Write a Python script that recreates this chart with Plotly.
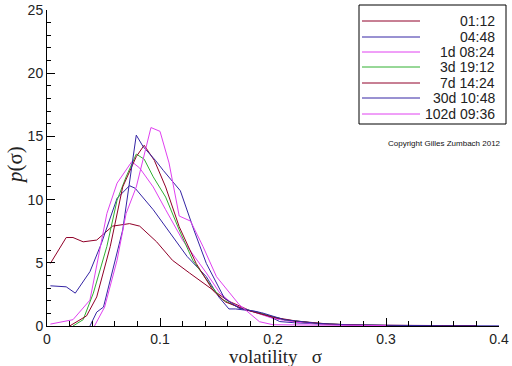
import plotly.graph_objects as go

# ---------------- data ----------------
labels = ["01:12", "04:48", "1d 08:24", "3d 19:12", "7d 14:24", "30d 10:48", "102d 09:36"]
colors = ["#900028", "#3424a4", "#e040f0", "#30b030", "#900028", "#3424a4", "#e040f0"]

x_0112 = [0.003, 0.017, 0.023, 0.032, 0.044, 0.058, 0.073, 0.082, 0.097, 0.111, 0.126, 0.147, 0.16, 0.18, 0.2, 0.22, 0.25, 0.28, 0.3, 0.33, 0.36, 0.38]
y_0112 = [4.95, 7.0, 7.0, 6.66, 6.8, 7.9, 8.1, 7.9, 6.66, 5.2, 4.2, 2.84, 2.0, 1.2, 0.65, 0.35, 0.15, 0.07, 0.05, 0.03, 0.02, 0.02]

x_0448 = [0.003, 0.017, 0.025, 0.038, 0.048, 0.062, 0.073, 0.078, 0.094, 0.109, 0.124, 0.141, 0.152, 0.161, 0.167, 0.185, 0.197, 0.206, 0.22, 0.25, 0.28, 0.3]
y_0448 = [3.18, 3.1, 2.6, 4.3, 6.5, 10.1, 11.1, 10.9, 9.2, 7.3, 5.5, 3.9, 2.3, 1.35, 1.35, 1.15, 0.75, 0.35, 0.25, 0.12, 0.06, 0.04]

x_1d = [0.003, 0.023, 0.038, 0.053, 0.062, 0.075, 0.082, 0.094, 0.105, 0.12, 0.141, 0.153, 0.165, 0.18, 0.2, 0.22, 0.25, 0.28]
y_1d = [0.15, 0.5, 2.05, 8.9, 11.3, 13.0, 12.5, 11.0, 9.2, 6.8, 4.2, 2.6, 1.7, 1.2, 0.6, 0.3, 0.12, 0.05]

x_3d = [0.023, 0.032, 0.041, 0.053, 0.062, 0.07, 0.079, 0.086, 0.094, 0.105, 0.117, 0.129, 0.145, 0.155, 0.17, 0.19, 0.21, 0.24, 0.27, 0.3, 0.33]
y_3d = [0.0, 0.5, 2.6, 6.3, 9.95, 11.8, 13.6, 13.2, 11.8, 10.2, 7.6, 5.2, 3.2, 2.1, 1.45, 1.0, 0.5, 0.2, 0.08, 0.04, 0.02]

x_7d = [0.02, 0.035, 0.044, 0.056, 0.067, 0.079, 0.086, 0.095, 0.105, 0.117, 0.132, 0.147, 0.158, 0.175, 0.2, 0.22, 0.25, 0.28, 0.31, 0.34, 0.38]
y_7d = [0.0, 0.8, 2.3, 6.3, 11.0, 13.4, 14.3, 13.1, 11.0, 7.85, 4.95, 2.8, 1.9, 1.3, 0.7, 0.4, 0.15, 0.06, 0.03, 0.02, 0.02]

x_30d = [0.038, 0.044, 0.05, 0.067, 0.079, 0.085, 0.096, 0.103, 0.118, 0.13, 0.141, 0.157, 0.17, 0.19, 0.21, 0.24, 0.27, 0.3, 0.35, 0.4]
y_30d = [0.0, 1.1, 1.5, 7.6, 15.1, 14.2, 13.1, 12.3, 10.7, 7.6, 4.95, 2.2, 1.4, 1.05, 0.5, 0.2, 0.08, 0.04, 0.02, 0.01]

x_102d = [0.042, 0.051, 0.062, 0.07, 0.079, 0.085, 0.092, 0.1, 0.108, 0.117, 0.127, 0.138, 0.15, 0.17, 0.188, 0.2, 0.22, 0.25, 0.27, 0.3]
y_102d = [0.0, 1.5, 5.2, 8.9, 11.0, 13.1, 15.7, 15.4, 12.9, 8.7, 8.3, 6.3, 3.9, 1.7, 0.34, 0.1, 0.08, 0.05, 0.04, 0.03]

series_x = [x_0112, x_0448, x_1d, x_3d, x_7d, x_30d, x_102d]
series_y = [y_0112, y_0448, y_1d, y_3d, y_7d, y_30d, y_102d]

# ---------------- layout geometry (pixels) ----------------
W, H = 512, 366
L, R, T, B = 47, 13, 10, 40
PW, PH = W - L - R, H - T - B

def px(x):
    return (x - L) / PW

def py(y):
    return (H - B - y) / PH

fig = go.Figure()
for xs, ys, lab, col in zip(series_x, series_y, labels, colors):
    fig.add_trace(go.Scatter(x=xs, y=ys, mode="lines", name=lab,
                             line=dict(color=col, width=1), showlegend=False))

tickfont = dict(family="Liberation Sans, Arial, sans-serif", size=14, color="#222")

fig.update_layout(
    width=W, height=H,
    margin=dict(l=L, r=R, t=T, b=B, autoexpand=False),
    paper_bgcolor="white", plot_bgcolor="white",
    xaxis=dict(range=[0, 0.4], tickvals=[0, 0.1, 0.2, 0.3, 0.4],
               ticktext=["0", "0.1", "0.2", "0.3", "0.4"], automargin=False,
               ticks="inside", ticklen=8, tickcolor="black", tickwidth=1,
               minor=dict(dtick=0.02, tick0=0, ticks="inside", ticklen=5, tickcolor="black"),
               showline=True, linecolor="black", linewidth=1, mirror=False,
               showgrid=False, zeroline=False, tickfont=tickfont),
    yaxis=dict(range=[0, 25], tickvals=[0, 5, 10, 15, 20, 25], automargin=False,
               ticks="inside", ticklen=8, tickcolor="black", tickwidth=1,
               minor=dict(dtick=1, tick0=0, ticks="inside", ticklen=4, tickcolor="black"),
               showline=True, linecolor="black", linewidth=1, mirror=False,
               showgrid=False, zeroline=False, tickfont=tickfont),
)

serif = "Liberation Serif, Times New Roman, serif"
annotations = [
    dict(text="volatility\u00a0\u00a0\u00a0σ", x=px(275), y=py(356), xref="paper", yref="paper",
         showarrow=False, font=dict(family=serif, size=19, color="#222"), xanchor="center", yanchor="middle",
         borderpad=0),
    dict(text="<i>p</i>(σ)", x=px(15), y=py(165), xref="paper", yref="paper", textangle=-90,
         showarrow=False, font=dict(family=serif, size=21, color="#222"), xanchor="center", yanchor="middle"),
    dict(text="Copyright Gilles Zumbach 2012", x=px(444), y=py(143), xref="paper", yref="paper",
         showarrow=False, font=dict(family="Liberation Sans, Arial, sans-serif", size=8, color="#111"),
         xanchor="center", yanchor="middle"),
]

shapes = [dict(type="rect", xref="paper", yref="paper", x0=px(359), x1=px(506), y0=py(124), y1=py(5),
               line=dict(color="black", width=1), fillcolor="white", layer="above")]
rows = [21, 37, 52, 67, 83, 98, 114]
for r, lab, col in zip(rows, labels, colors):
    shapes.append(dict(type="line", xref="paper", yref="paper", x0=px(362), x1=px(420), y0=py(r), y1=py(r),
                       line=dict(color=col, width=1), layer="above"))
    annotations.append(dict(text=lab, x=px(497), y=py(r), xref="paper", yref="paper", showarrow=False,
                            xanchor="right", yanchor="middle",
                            font=dict(family="Liberation Sans, Arial, sans-serif", size=14, color="#222")))

fig.update_layout(shapes=shapes, annotations=annotations)
fig.write_html("out.html", config={"displayModeBar": False},
               post_script="document.body.style.margin='0';document.body.style.overflow='hidden';")
